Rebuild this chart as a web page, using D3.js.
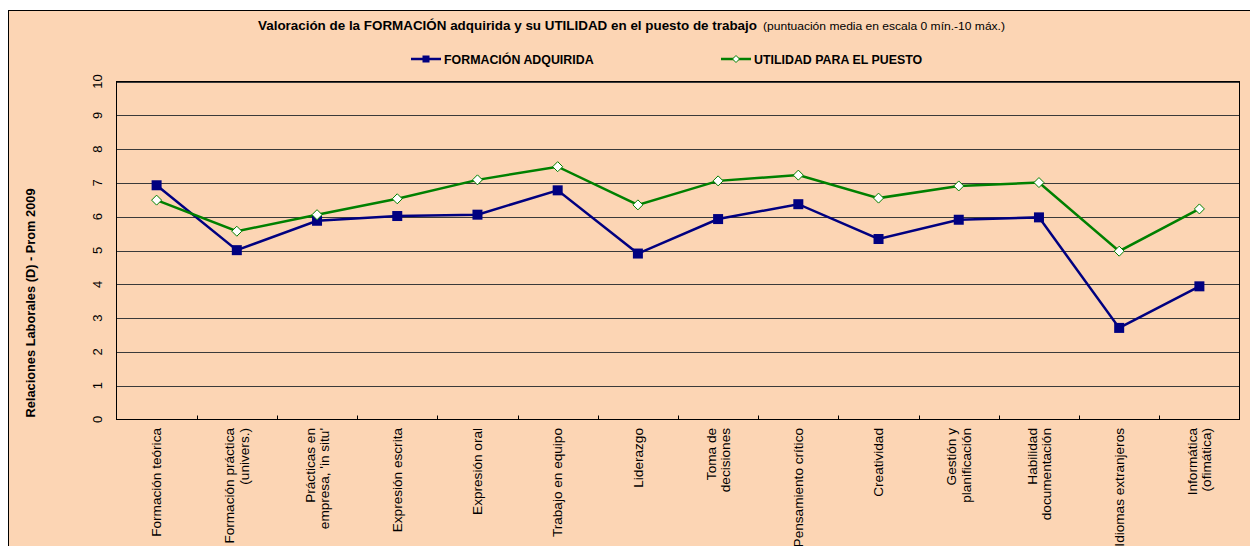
<!DOCTYPE html>
<html><head><meta charset="utf-8">
<script src="https://cdn.jsdelivr.net/npm/d3@7"></script>
<style>body{margin:0;background:#fff}svg{display:block;font-family:"Liberation Sans",Arial,sans-serif}</style>
</head><body><svg id="c" width="1250" height="546"></svg>
<script>
const categories = [
  ["Formación teórica"],
  ["Formación práctica","(univers.)"],
  ["Prácticas en","empresa, 'in situ'"],
  ["Expresión escrita"],
  ["Expresión oral"],
  ["Trabajo en equipo"],
  ["Liderazgo"],
  ["Toma de","decisiones"],
  ["Pensamiento crítico"],
  ["Creatividad"],
  ["Gestión y","planificación"],
  ["Habilidad","documentación"],
  ["Idiomas extranjeros"],
  ["Informática","(ofimática)"]
];
const formacion = [6.93,5.01,5.88,6.02,6.06,6.78,4.91,5.93,6.37,5.34,5.91,5.98,2.71,3.94];
const utilidad  = [6.49,5.57,6.06,6.53,7.09,7.48,6.35,7.06,7.23,6.55,6.91,7.01,4.98,6.23];
const yTicks = [0,1,2,3,4,5,6,7,8,9,10];
const seriesNames = ["FORMACIÓN ADQUIRIDA","UTILIDAD PARA EL PUESTO"];
const titleMain = "Valoración de la FORMACIÓN adquirida y su UTILIDAD en el puesto de trabajo";
const titleSub = "(puntuación media en escala 0 mín.-10 máx.)";
const yTitle = "Relaciones Laborales (D) - Prom 2009";

const svg = d3.select("#c");
const bg = "#FCD5B4", blue = "#000080", green = "#008000";
svg.append("rect").attr("x",8.5).attr("y",10.5).attr("width",1300).attr("height",600)
  .attr("fill",bg).attr("stroke","#000").attr("stroke-width",1);

const L=116.5, R=1239.5, T=81.5, B=419.5;
const x = d3.scaleBand().domain(d3.range(categories.length)).range([L,R]);
const y = d3.scaleLinear().domain([0,10]).range([B,T]);

// gridlines
svg.append("g").selectAll("line").data(yTicks.slice(1)).join("line")
  .attr("x1",L).attr("x2",R).attr("y1",d=>Math.round(y(d))+0.5).attr("y2",d=>Math.round(y(d))+0.5)
  .attr("stroke","#3a3a3a").attr("stroke-width",1);
// plot border
svg.append("rect").attr("x",L).attr("y",T).attr("width",R-L).attr("height",B-T)
  .attr("fill","none").attr("stroke","#000").attr("stroke-width",1);
// x ticks (inside)
svg.append("g").selectAll("line").data(d3.range(1,categories.length)).join("line")
  .attr("x1",d=>Math.round(x(d))+0.5).attr("x2",d=>Math.round(x(d))+0.5)
  .attr("y1",B).attr("y2",B-4).attr("stroke","#000");
// y tick labels
svg.append("g").selectAll("text").data(yTicks).join("text")
  .attr("transform",d=>`translate(102,${y(d)}) rotate(-90)`)
  .attr("text-anchor","middle").attr("font-size",13).attr("fill","#000").text(d=>d);
// y title
svg.append("text").attr("transform","translate(35,303) rotate(-90)")
  .attr("text-anchor","middle").attr("font-size",12.8).attr("font-weight","bold").text(yTitle);
// x labels
const xl = svg.append("g").selectAll("g").data(categories).join("g")
  .attr("transform",(d,i)=>`translate(${x(i)+x.bandwidth()/2},428) rotate(-90)`);
xl.each(function(lines){
  const g=d3.select(this); const n=lines.length;
  lines.forEach((t,k)=>{
    g.append("text").attr("x",0).attr("y",(k-(n-1)/2)*14.5+4.8)
     .attr("text-anchor","end").attr("font-size",13.6).text(t);
  });
});
// lines
const line = d3.line().x((d,i)=>x(i)+x.bandwidth()/2).y(d=>y(d));
svg.append("path").datum(formacion).attr("d",line).attr("fill","none").attr("stroke",blue).attr("stroke-width",2.5);
svg.append("path").datum(utilidad).attr("d",line).attr("fill","none").attr("stroke",green).attr("stroke-width",2.5);
svg.append("g").selectAll("rect").data(formacion).join("rect")
  .attr("x",(d,i)=>x(i)+x.bandwidth()/2-5).attr("y",d=>y(d)-5).attr("width",10).attr("height",10).attr("fill",blue);
const diamond = s=>`M0,${-s}L${s},0L0,${s}L${-s},0Z`;
svg.append("g").selectAll("path").data(utilidad).join("path")
  .attr("transform",(d,i)=>`translate(${x(i)+x.bandwidth()/2},${y(d)})`)
  .attr("d",diamond(5)).attr("fill","#fff").attr("stroke",green).attr("stroke-width",1);

// title
const tt = svg.append("text").attr("y",30).attr("fill","#000");
tt.append("tspan").attr("x",258).attr("font-size",13.2).attr("font-weight","bold")
  .attr("textLength",499).attr("lengthAdjust","spacingAndGlyphs").text(titleMain);
tt.append("tspan").attr("x",763).attr("font-size",11)
  .attr("textLength",242).attr("lengthAdjust","spacingAndGlyphs").text(titleSub);

// legend
const leg = [[411,blue,"sq"],[721,green,"dm"]];
leg.forEach(([lx,col,m],k)=>{
  const g=svg.append("g");
  g.append("line").attr("x1",lx).attr("x2",lx+30).attr("y1",59).attr("y2",59).attr("stroke",col).attr("stroke-width",2.5);
  if(m==="sq") g.append("rect").attr("x",lx+15-3.5).attr("y",59-3.5).attr("width",7).attr("height",7).attr("fill",col);
  else g.append("path").attr("transform",`translate(${lx+15},59)`).attr("d",diamond(3.5)).attr("fill","#fff").attr("stroke",col);
  g.append("text").attr("x",lx+33).attr("y",63.5).attr("font-size",12.4).attr("font-weight","bold").text(seriesNames[k]);
});
</script></body></html>
